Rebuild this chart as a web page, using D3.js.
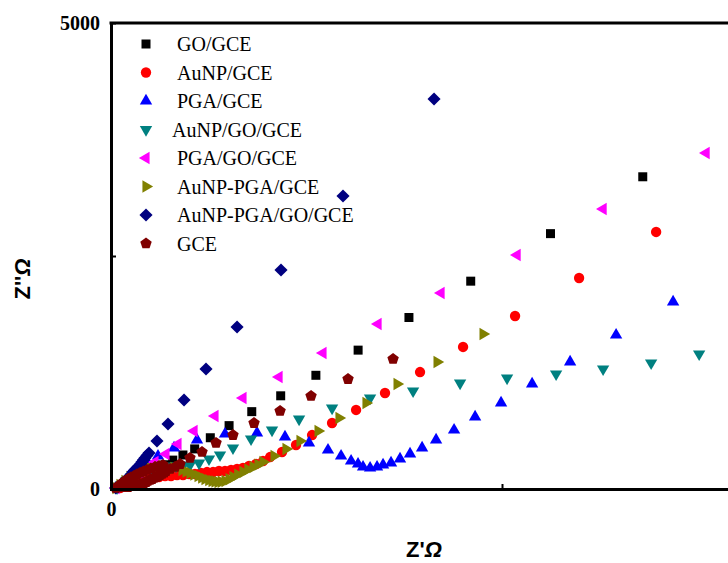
<!DOCTYPE html>
<html>
<head>
<meta charset="utf-8">
<script src="https://cdn.jsdelivr.net/npm/d3@7"></script>
<style>
  body { margin: 0; background: #fff; }
</style>
</head>
<body>
<div id="chart"></div>
<script>
// Nyquist data, [Z' (ohm), -Z'' (ohm)]
var seriesNames = ["GO/GCE", "AuNP/GCE", "PGA/GCE", "AuNP/GO/GCE", "PGA/GO/GCE",
                   "AuNP-PGA/GCE", "AuNP-PGA/GO/GCE", "GCE"];
var seriesColors = ["#000000", "#ff0000", "#0000ff", "#008080", "#ff00ff",
                    "#808000", "#000080", "#800000"];

var goGCE = [[130,20],[210,40],[280,75],[360,105],[440,140],[510,170],[600,215],[690,260],
  [790,310],[920,365],[1070,430],[1270,550],[1510,680],[1800,830],[2170,1000],[2620,1220],
  [3160,1490],[3810,1840],[4600,2230],[5620,2740],[6800,3350]];

var aunpGCE = [[115,11],[166,32],[217,54],[269,75],[333,86],[396,97],[460,107],[537,118],
  [614,129],[691,139],[767,139],[844,150],[921,150],[998,161],[1074,161],[1151,172],[1228,182],
  [1305,182],[1381,193],[1458,193],[1535,204],[1612,215],[1688,225],[1765,247],[1855,268],
  [1944,300],[2034,343],[2187,397],[2366,472],[2571,579],[2827,708],[3134,848],[3504,1030],
  [3952,1255],[4502,1524],[5167,1856],[5986,2264],[6971,2758]];

var pgaGCE = [[90,21],[141,54],[205,97],[281,150],[371,215],[473,279],[601,354],[806,440],
  [1100,526],[1458,590],[1867,601],[2225,558],[2532,494],[2775,418],[2942,354],[3070,300],
  [3159,268],[3223,236],[3313,225],[3402,236],[3479,258],[3581,279],[3696,322],[3824,376],
  [3978,440],[4157,526],[4387,633],[4656,773],[4988,923],[5385,1127],[5871,1363],[6459,1652],
  [7188,2007]];

var aunpGoGCE = [[77,11],[128,43],[192,86],[256,129],[333,172],[422,204],[524,225],[627,236],
  [729,247],[831,247],[921,247],[1010,258],[1126,279],[1253,322],[1394,365],[1560,440],
  [1791,537],[2059,633],[2405,751],[2827,869],[3313,976],[3863,1052],[4464,1137],[5065,1191],
  [5692,1234],[6293,1288],[6907,1352],[7521,1449]];

var pgaGoGCE = [[64,11],[115,32],[166,64],[230,97],[294,129],[371,172],[460,225],[563,290],
  [703,376],[857,483],[1062,622],[1330,783],[1688,976],[2149,1202],[2711,1459],[3415,1770],
  [4221,2103],[5193,2511],[6293,3004],[7610,3605]];

var aunpPgaGCE = [[64,11],[115,43],[179,86],[243,129],[320,172],[409,204],[499,225],[601,236],
  [703,236],[806,225],[908,204],[960,186],[1010,172],[1060,155],[1113,139],[1160,122],[1202,107],
  [1250,95],[1292,86],[1330,80],[1369,75],[1410,78],[1458,86],[1510,105],[1560,129],[1620,155],
  [1688,182],[1750,210],[1816,236],[1880,262],[1944,290],[2085,354],[2238,429],[2417,515],
  [2648,622],[2916,762],[3261,923],[3658,1127],[4170,1363],[4758,1663]];

var aunpPgaGoGCE = [[60,11],[90,21],[115,32],[141,54],[166,75],[192,97],[217,118],[240,134],
  [256,150],[281,182],[300,198],[320,215],[340,230],[358,247],[380,268],[396,290],[415,310],
  [435,333],[460,360],[486,386],[588,515],[729,697],[934,955],[1215,1288],
  [1612,1738],[2174,2350],[2967,3144],[4131,4185]];

var gce = [[60,11],[90,21],[115,21],[141,21],[166,21],[192,21],[217,21],[243,32],[270,32],
  [294,32],[320,43],[345,43],[370,50],[396,54],[420,64],[448,75],[470,86],[499,97],[525,107],
  [550,118],[575,128],[601,139],[625,150],[652,161],[680,176],[703,193],[755,215],[819,236],
  [883,268],[1010,333],[1164,397],[1343,494],[1560,579],[1829,708],[2162,837],[2558,998],
  [3031,1180],[3607,1395],
  [115,43],[141,64],[180,86],[217,107],[255,123],[294,139],[330,155],[371,172],[415,188],
  [460,204],[510,220],[563,236],[615,247],[665,258]];

var seriesData = [goGCE, aunpGCE, pgaGCE, aunpGoGCE, pgaGoGCE, aunpPgaGCE, aunpPgaGoGCE, gce];

var xTicks = [0, 5000, 10000];
var yTicks = [0, 2500, 5000];

var width = 728, height = 563;

// regular pentagon, d3 doesn't ship one
var symbolPentagon = {
    draw: function(context, size) {
        var r = Math.sqrt(size / (2.5 * Math.sin(2 * Math.PI / 5)));
        for (var i = 0; i < 5; i++) {
            var a = -Math.PI / 2 + i * 2 * Math.PI / 5;
            if (i === 0) context.moveTo(r * Math.cos(a), r * Math.sin(a));
            else context.lineTo(r * Math.cos(a), r * Math.sin(a));
        }
        context.closePath();
    }
};

var markers = [
    {type: d3.symbolSquare,   size: 81, rotate: 0},
    {type: d3.symbolCircle,   size: 84, rotate: 0},
    {type: d3.symbolTriangle, size: 66, rotate: 0},
    {type: d3.symbolTriangle, size: 66, rotate: 180},
    {type: d3.symbolTriangle, size: 66, rotate: -90},
    {type: d3.symbolTriangle, size: 66, rotate: 90},
    {type: d3.symbolSquare,   size: 86, rotate: 45},
    {type: symbolPentagon,    size: 86, rotate: 0}
];

var x = d3.scaleLinear().domain([0, 10000]).range([111, 893]);
var y = d3.scaleLinear().domain([0, 5000]).range([489, 23]);

var svg = d3.select("#chart").append("svg")
    .attr("width", width).attr("height", height);

// points
seriesData.forEach(function(data, i) {
    var m = markers[i];
    var path = d3.symbol().type(m.type).size(m.size)();
    svg.append("g").attr("class", "series")
      .selectAll("path").data(data).enter().append("path")
        .attr("d", path)
        .attr("fill", seriesColors[i])
        .attr("transform", function(d) {
            return "translate(" + x(d[0]) + "," + y(d[1]) + ") rotate(" + m.rotate + ")";
        });
});

// axes
var xAxis = d3.axisBottom(x).tickValues(xTicks).tickSize(-5).tickSizeOuter(0).tickPadding(13)
    .tickFormat(function(d) { return d === 0 ? "0" : ""; });
var yAxis = d3.axisLeft(y).tickValues(yTicks).tickSize(-5).tickSizeOuter(0).tickPadding(11)
    .tickFormat(function(d) { return d === 2500 ? "" : d; });

var gx = svg.append("g").attr("transform", "translate(0," + y(0) + ")").call(xAxis);
var gy = svg.append("g").attr("transform", "translate(" + x(0) + ",0)").call(yAxis);

[gx, gy].forEach(function(g) {
    g.select(".domain").attr("stroke", "#000").attr("stroke-width", 3).attr("stroke-linecap", "square");
    g.selectAll(".tick line").attr("stroke", "#000").attr("stroke-width", 2);
    g.selectAll(".tick text").attr("fill", "#000")
      .style("font-family", "'Liberation Serif', 'Times New Roman', serif")
      .style("font-weight", "bold").style("font-size", "20px");
});

svg.append("line")
    .attr("x1", x(0)).attr("x2", width).attr("y1", y(5000)).attr("y2", y(5000))
    .attr("stroke", "#000").attr("stroke-width", 3).attr("stroke-linecap", "square");

// axis titles
var yTitle = svg.append("text")
    .attr("transform", "translate(30,279) rotate(-90)")
    .attr("text-anchor", "middle")
    .style("font-family", "'Liberation Sans', Arial, sans-serif")
    .style("font-weight", "bold").style("font-size", "22px");
yTitle.append("tspan").text("Z''");
yTitle.append("tspan").style("font-style", "italic").text("Ω");

var xTitle = svg.append("text")
    .attr("x", 424).attr("y", 557)
    .attr("text-anchor", "middle")
    .style("font-family", "'Liberation Sans', Arial, sans-serif")
    .style("font-weight", "bold").style("font-size", "22px");
xTitle.append("tspan").text("Z'");
xTitle.append("tspan").style("font-style", "italic").text("Ω");

// legend
var legend = svg.append("g").attr("class", "legend");
seriesNames.forEach(function(name, i) {
    var ly = 44 + i * 28.5;
    var m = markers[i];
    legend.append("path")
        .attr("d", d3.symbol().type(m.type).size(m.size)())
        .attr("fill", seriesColors[i])
        .attr("transform", "translate(146," + ly + ") rotate(" + m.rotate + ")");
    legend.append("text")
        .attr("x", i === 3 ? 172 : 177).attr("y", ly + 7)
        .style("font-family", "'Liberation Serif', 'Times New Roman', serif")
        .style("font-size", "20px")
        .text(name);
});
</script>
</body>
</html>
